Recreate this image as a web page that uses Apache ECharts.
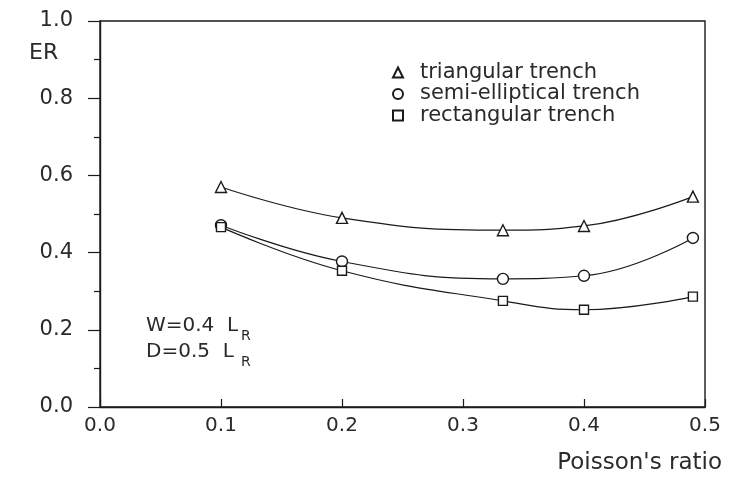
<!DOCTYPE html>
<html>
<head>
<meta charset="utf-8">
<script src="https://cdn.jsdelivr.net/npm/echarts@6/dist/echarts.min.js"></script>
<style>html,body{margin:0;padding:0;background:#fff}#c{width:730px;height:477px}</style>
</head>
<body>
<div id="c"></div>
<script>
// Data
const poisson = [0.1, 0.2, 0.333, 0.4, 0.49];
const triangular = [0.57, 0.49, 0.458, 0.469, 0.545];
const semiElliptical = [0.471, 0.377, 0.332, 0.34, 0.438];
const rectangular = [0.466, 0.353, 0.275, 0.252, 0.286];
const seriesNames = ['triangular trench', 'semi-elliptical trench', 'rectangular trench'];
const xTicks = [0.0, 0.1, 0.2, 0.3, 0.4, 0.5];
const yTicks = [0.0, 0.2, 0.4, 0.6, 0.8, 1.0];

const FONT = 'DejaVu Sans';
const INK = '#1a1a1a';
const TXT = '#2a2a2a';
const pair = (xs, ys) => xs.map((x, i) => [x, ys[i]]);

const chart = echarts.init(document.getElementById('c'), null, {renderer: 'canvas'});
const mk = (name, data, symbol, size) => ({
  name, type: 'line', data: pair(poisson, data), smooth: 0.45,
  symbol, symbolSize: size, showSymbol: true,
  lineStyle: {color: INK, width: 1.2},
  itemStyle: {color: '#fff', borderColor: INK, borderWidth: 1.4},
  emphasis: {disabled: true}, z: 3
});
chart.setOption({
  animation: false,
  textStyle: {fontFamily: FONT},
  grid: {left: 100, right: 25, top: 21, bottom: 70, show: true, borderColor: INK, borderWidth: 1.4, backgroundColor: 'transparent'},
  xAxis: {
    type: 'value', min: xTicks[0], max: xTicks[xTicks.length - 1], interval: 0.1,
    axisLine: {show: true, onZero: false, lineStyle: {color: INK, width: 1.4}},
    axisTick: {show: true, inside: true, length: 8, lineStyle: {color: INK, width: 1.2}},
    splitLine: {show: false},
    axisLabel: {margin: 9, fontSize: 20, color: TXT, fontFamily: FONT, formatter: v => v.toFixed(1)}
  },
  yAxis: {
    type: 'value', min: yTicks[0], max: yTicks[yTicks.length - 1], interval: 0.2,
    axisLine: {show: true, onZero: false, lineStyle: {color: INK, width: 1.4}},
    axisTick: {show: true, inside: false, length: 12, lineStyle: {color: INK, width: 1.2}},
    minorTick: {show: true, splitNumber: 2, length: 6, lineStyle: {color: INK, width: 1.2}},
    splitLine: {show: false},
    axisLabel: {margin: 27, fontSize: 21, color: TXT, fontFamily: FONT, formatter: v => v.toFixed(1)}
  },
  legend: {
    orient: 'vertical', left: 387, top: 57, itemWidth: 10, itemHeight: 10, itemGap: 0.5,
    selectedMode: false,
    textStyle: {fontSize: 21, lineHeight: 20.5, color: TXT, fontFamily: FONT, padding: [0, 0, 0, 12]},
    data: [
      {name: seriesNames[0], icon: 'triangle'},
      {name: seriesNames[1], icon: 'circle'},
      {name: seriesNames[2], icon: 'rect'}
    ]
  },
  series: [
    mk(seriesNames[0], triangular, 'triangle', 11),
    mk(seriesNames[1], semiElliptical, 'circle', 11),
    mk(seriesNames[2], rectangular, 'rect', 9)
  ],
  graphic: [
    {type: 'text', left: 29, top: 42, style: {text: 'ER', fontSize: 22, fill: TXT, fontFamily: FONT}},
    {type: 'text', right: 8, top: 452, style: {text: "Poisson's ratio", fontSize: 23, fill: TXT, fontFamily: FONT}},
    {type: 'text', left: 146, top: 316, style: {text: 'W=0.4  L', fontSize: 20, fill: TXT, fontFamily: FONT}},
    {type: 'text', left: 241, top: 329, style: {text: 'R', fontSize: 14, fill: TXT, fontFamily: FONT}},
    {type: 'text', left: 146, top: 342, style: {text: 'D=0.5  L', fontSize: 20, fill: TXT, fontFamily: FONT}},
    {type: 'text', left: 241, top: 355, style: {text: 'R', fontSize: 14, fill: TXT, fontFamily: FONT}}
  ]
});
</script>
</body>
</html>
